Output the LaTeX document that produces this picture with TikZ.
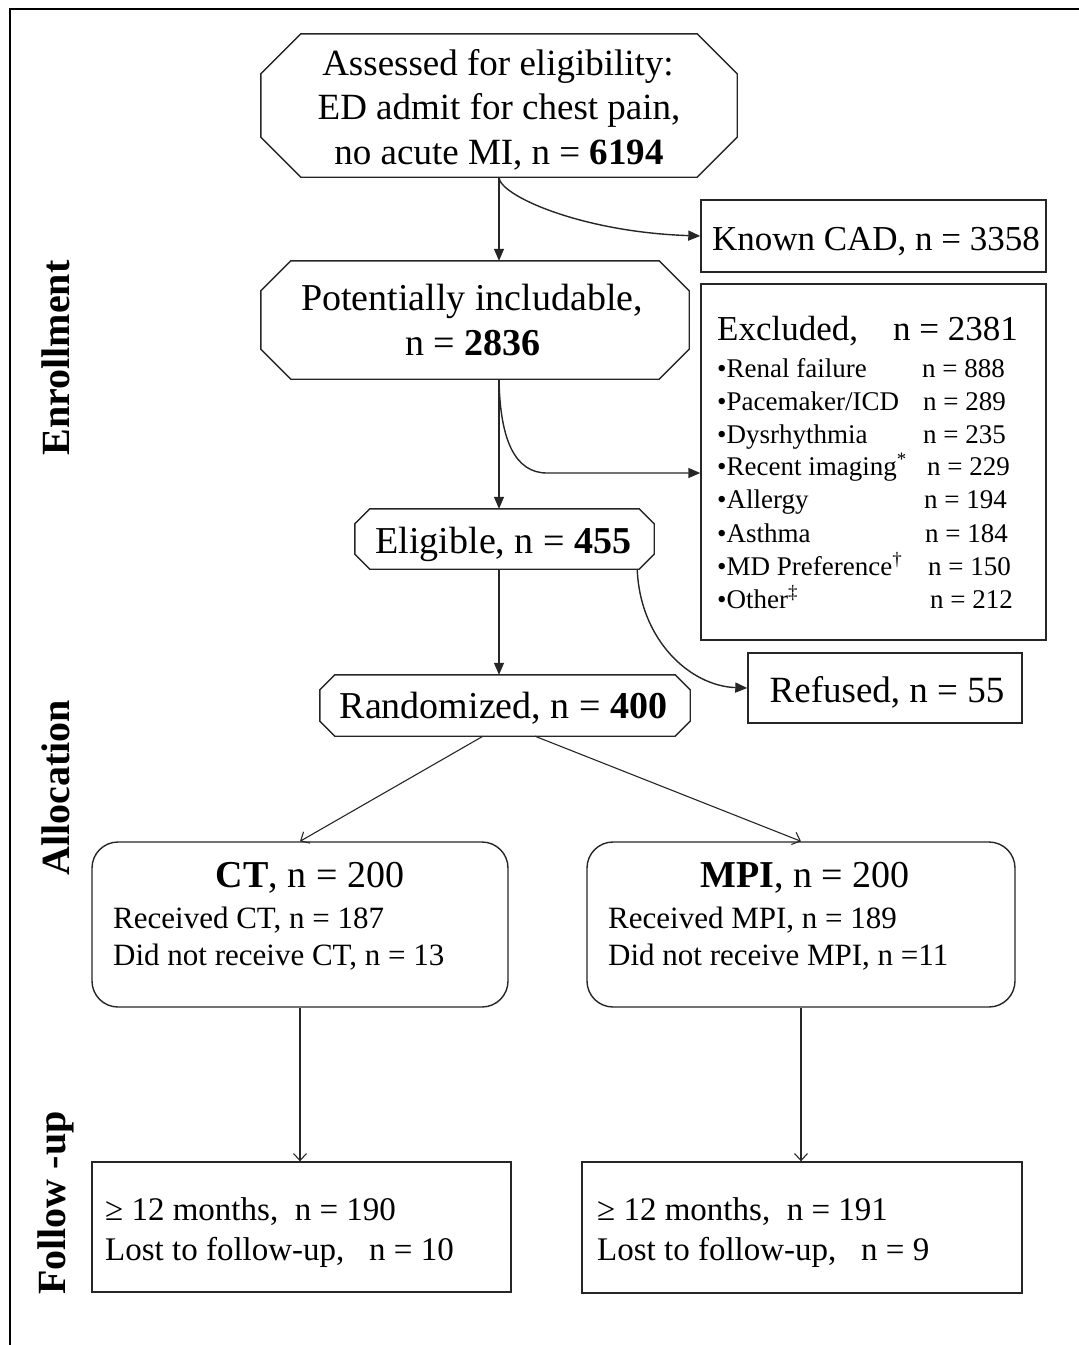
\documentclass[tikz,border=0pt]{standalone}
\usepackage{fontspec}
\setmainfont{Liberation Serif}
\usetikzlibrary{arrows.meta,calc}
\newcommand\octo[2]{\draw[draw=black!85,line width=1.4pt] ([xshift=#2pt]#1.north west) -- ([xshift=-#2pt]#1.north east) -- ([yshift=-#2pt]#1.north east) -- ([yshift=#2pt]#1.south east) -- ([xshift=-#2pt]#1.south east) -- ([xshift=#2pt]#1.south west) -- ([yshift=#2pt]#1.south west) -- ([yshift=-#2pt]#1.north west) -- cycle;}
\begin{document}
\begin{tikzpicture}[x=1pt,y=-1pt,
  frm/.style={draw=black!85,line width=1.4pt,inner sep=0pt},
  oc/.style={inner sep=0pt},
  rb/.style={frm,rounded corners=26pt},
  lab/.style={anchor=base,inner sep=0pt},
  labw/.style={anchor=base west,inner sep=0pt},
  fA/.style={font=\fontsize{37}{45}\selectfont},
  fB/.style={font=\fontsize{38}{45}\selectfont},
  fC/.style={font=\fontsize{35}{40}\selectfont},
  fS/.style={font=\fontsize{27}{30}\selectfont},
  fM/.style={font=\fontsize{31}{36}\selectfont},
  fF/.style={font=\fontsize{33}{38}\selectfont},
  side/.style={rotate=90,inner sep=0pt,font=\bfseries\fontsize{40}{40}\selectfont},
  arrF/.style={draw=black!85,line width=1.4pt,-{Triangle[length=12pt,width=10pt]}},
  arrO/.style={draw=black!85,line width=1.1pt,-{Straight Barb[length=7pt,width=13pt]}},
]
\useasboundingbox (0,0) rectangle (1079,1345);
\draw[line width=2pt] (10,1345) -- (10,9) -- (1079,9);

% side labels
\node[side] (L1) at (56,358) {Enrollment};
\node[side] (L2) at (56,788) {Allocation};
\node[side] (L3) at (56,1203) {Follow -up};

% octagonal boxes
\node[oc,minimum width=476pt,minimum height=143pt] (A) at (499,105.5) {};
\octo{A}{40}
\node[oc,minimum width=428pt,minimum height=118pt] (B) at (475,320) {};
\octo{B}{30}
\node[oc,minimum width=299pt,minimum height=60pt] (E) at (504.5,539) {};
\octo{E}{15}
\node[oc,minimum width=370pt,minimum height=61pt] (R) at (505,705.5) {};
\octo{R}{15}

% rectangular boxes
\node[frm,minimum width=345pt,minimum height=72pt] (CAD) at (873.5,236) {};
\node[frm,minimum width=345pt,minimum height=356pt] (EX) at (873.5,462) {};
\node[frm,minimum width=274pt,minimum height=70pt] (REF) at (885,688) {};
\node[rb,minimum width=416pt,minimum height=165pt] (CT) at (300,924.5) {};
\node[rb,minimum width=428pt,minimum height=165pt] (MPI) at (801,924.5) {};
\node[frm,minimum width=419pt,minimum height=130pt] (FU1) at (301.5,1227) {};
\node[frm,minimum width=440pt,minimum height=131pt] (FU2) at (802,1227.5) {};

% texts
\node[lab,fA] (A1) at (498,75) {Assessed for eligibility:};
\node[lab,fA] (A2) at (499,119) {ED admit for chest pain,};
\node[lab,fA] (A3) at (499,164) {no acute MI, n = \textbf{6194}};
\node[lab,fC] (CADt) at (876,250) {Known CAD, n = 3358};
\node[lab,fB] (B1) at (472,310) {Potentially includable,};
\node[lab,fB] (B2) at (473,355) {n = \textbf{2836}};
\node[labw,fC] (EX0a) at (717,340) {Excluded,};
\node[labw,fC] (EX0b) at (893,340) {n = 2381};
\node[labw,fS] (EX1a) at (717,377) {•Renal failure};
\node[labw,fS] (EX1b) at (922,377) {n = 888};
\node[labw,fS] (EX2a) at (717,410) {•Pacemaker/ICD};
\node[labw,fS] (EX2b) at (923,410) {n = 289};
\node[labw,fS] (EX3a) at (717,443) {•Dysrhythmia};
\node[labw,fS] (EX3b) at (923,443) {n = 235};
\node[labw,fS] (EX4a) at (717,475) {•Recent imaging\textsuperscript{*}};
\node[labw,fS] (EX4b) at (927,475) {n = 229};
\node[labw,fS] (EX5a) at (717,508) {•Allergy};
\node[labw,fS] (EX5b) at (924,508) {n = 194};
\node[labw,fS] (EX6a) at (717,542) {•Asthma};
\node[labw,fS] (EX6b) at (925,542) {n = 184};
\node[labw,fS] (EX7a) at (717,575) {•MD Preference\textsuperscript{†}};
\node[labw,fS] (EX7b) at (928,575) {n = 150};
\node[labw,fS] (EX8a) at (717,608) {•Other\textsuperscript{‡}};
\node[labw,fS] (EX8b) at (930,608) {n = 212};
\node[lab,fB] (Et) at (503.5,553) {Eligible, n = \textbf{455}};
\node[lab,fB] (Rt) at (503.5,718) {Randomized, n = \textbf{400}};
\node[lab,fA] (REFt) at (887,702) {Refused, n = 55};
\node[lab,fB] (CT0) at (310,887) {\textbf{CT}, n = 200};
\node[labw,fM] (CT1) at (113,928) {Received CT, n = 187};
\node[labw,fM] (CT2) at (113,965) {Did not receive CT, n = 13};
\node[lab,fB] (MPI0) at (805,887) {\textbf{MPI}, n = 200};
\node[labw,fM] (MPI1) at (608,928) {Received MPI, n = 189};
\node[labw,fM] (MPI2) at (608,965) {Did not receive MPI, n =11};
\node[labw,fF] (FU1a) at (105,1220) {≥ 12 months,\ \ n = 190};
\node[labw,fF] (FU1b) at (105,1260) {Lost to follow-up,\ \ \ n = 10};
\node[labw,fF] (FU2a) at (597,1220) {≥ 12 months,\ \ n = 191};
\node[labw,fF] (FU2b) at (597,1260) {Lost to follow-up,\ \ \ n = 9};

% connectors
\coordinate (b0) at (A.south |- B.south);
\coordinate (exin) at (EX.west |- 0,473);
\coordinate (e0) at (b0 |- E.south);
\coordinate (e1) at ([xshift=-17pt]E.south east);
\coordinate (r1) at ([xshift=-22pt]R.south);
\coordinate (r2) at ([xshift=30pt]R.south);
\draw[arrF] (A.south) -- (A.south |- B.north);
\draw[arrF] (A.south) .. controls (499,195) and (580,232) .. (CAD.west);
\draw[arrF] (b0) -- (b0 |- E.north);
\draw[arrF] (b0) .. controls (500,440) and (515,473) .. (547,473) -- (exin);
\draw[arrF] (e0) -- (e0 |- R.north);
\draw[arrF] (e1) .. controls (640,640) and (690,686) .. (REF.west);
\draw[arrO] (r1) -- (CT.north);
\draw[arrO] (r2) -- (MPI.north);
\draw[arrO] (CT.south) -- (CT.south |- FU1.north);
\draw[arrO] (MPI.south) -- (MPI.south |- FU2.north);
\end{tikzpicture}
\end{document}
